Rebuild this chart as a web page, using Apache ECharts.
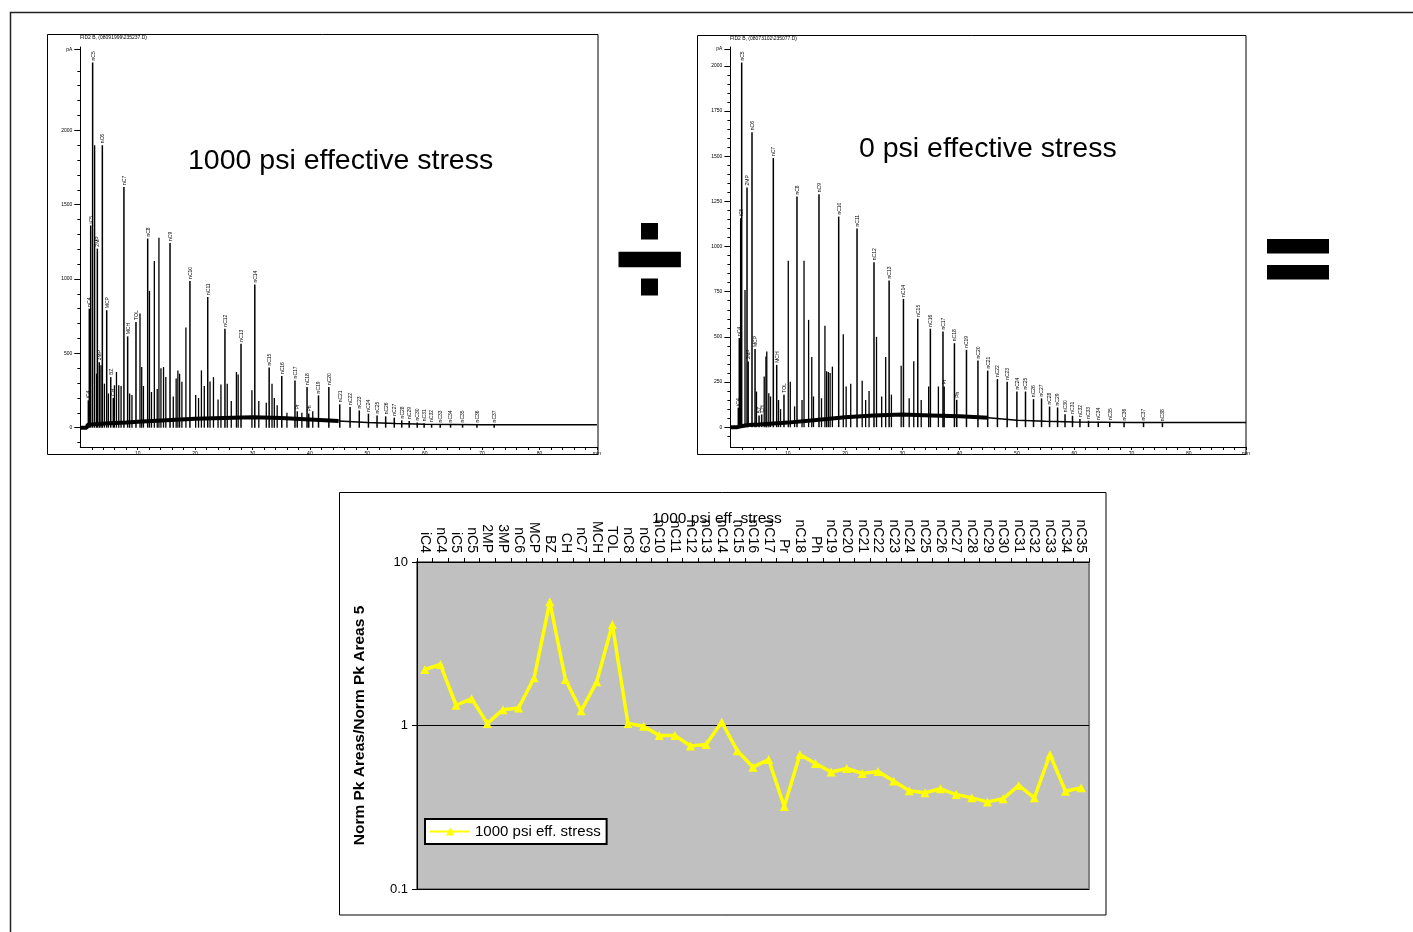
<!DOCTYPE html>
<html>
<head>
<meta charset="utf-8">
<title>Norm Pk Areas ratio</title>
<script src="https://cdn.jsdelivr.net/npm/echarts@6/dist/echarts.min.js"></script>
<style>
  html, body { margin: 0; padding: 0; background: #fff; }
  #chart { width: 1413px; height: 932px; }
</style>
</head>
<body>
<div id="chart"></div>
<script>
// ---- 1000 psi chromatogram (left) ----
const leftPeakNames = ["iC4", "nC4", "iC5", "nC5", "2MP", "3MP", "nC6", "MCP", "BZ", "CH", "nC7", "MCH", "TOL",
  "nC8", "nC9", "nC10", "nC11", "nC12", "nC13", "nC14", "nC15", "nC16", "nC17", "Pr", "nC18", "Ph", "nC19",
  "nC20", "nC21", "nC22", "nC23", "nC24", "nC25", "nC26", "nC27", "nC28", "nC29", "nC30", "nC31", "nC32",
  "nC33", "nC34", "nC35", "nC36", "nC37"];
const leftPeakTimes = [1.40, 1.57, 1.81, 2.15, 2.97, 3.30, 3.84, 4.60, 5.30, 5.75, 7.60, 8.25, 9.70,
  11.74, 15.63, 19.10, 22.20, 25.20, 28.00, 30.40, 32.90, 35.10, 37.40, 37.80, 39.50, 39.80, 41.50,
  43.30, 45.20, 47.00, 48.60, 50.20, 51.70, 53.20, 54.70, 56.00, 57.30, 58.70, 59.90, 61.20,
  62.70, 64.50, 66.60, 69.10, 72.10];
const leftPeakHeights = [184, 800, 1360, 2456, 1204, 440, 1900, 790, 340, 200, 1619, 614, 711,
  1272, 1242, 987, 879, 666, 565, 962, 404, 347, 318, 110, 273, 95, 217,
  273, 157, 139, 116, 94, 81, 76, 67, 49, 45, 35, 30, 25,
  22, 22, 22, 22, 22];
const leftGrassTimes = [2.50, 2.84, 3.60, 4.20, 4.90, 5.95, 6.30, 6.70, 7.10, 8.60, 9.00, 10.40, 10.70, 11.00,
  12.05, 12.40, 12.90, 13.40, 13.70, 14.05, 14.50, 14.90, 16.20, 16.70, 17.00, 17.30, 17.70, 18.40, 20.10,
  20.60, 21.10, 21.60, 22.60, 23.20, 24.00, 24.50, 25.60, 26.30, 27.20, 27.50, 29.90, 31.10, 32.40, 33.40,
  33.80, 34.30, 36.00, 38.60, 40.50];
const leftGrassHeights = [1900, 363, 420, 296, 230, 285, 374, 285, 280, 229, 220, 767, 408, 280,
  920, 240, 1121, 260, 1278, 400, 408, 340, 210, 330, 385, 363, 308, 673, 220,
  200, 385, 280, 310, 340, 190, 290, 295, 180, 374, 358, 252, 180, 168, 295,
  200, 150, 100, 100, 110];
const leftBaseTimes = [0, 1.1, 1.3, 3, 5, 8, 10, 15, 20, 25, 30, 35, 40, 45, 50, 55, 60, 70, 90];
const leftBaseValues = [0, 0, 20, 25, 30, 35, 40, 50, 60, 65, 70, 65, 55, 45, 35, 28, 23, 20, 20];

// ---- 0 psi chromatogram (right) ----
const rightPeakNames = ["iC4", "nC4", "iC5", "nC5", "2MP", "3MP", "nC6", "MCP", "BZ", "CH", "nC7", "MCH", "TOL",
  "nC8", "nC9", "nC10", "nC11", "nC12", "nC13", "nC14", "nC15", "nC16", "nC17", "Pr", "nC18", "Ph", "nC19",
  "nC20", "nC21", "nC22", "nC23", "nC24", "nC25", "nC26", "nC27", "nC28", "nC29", "nC30", "nC31", "nC32",
  "nC33", "nC34", "nC35", "nC36", "nC37", "nC38"];
const rightPeakTimes = [1.38, 1.55, 1.80, 1.97, 2.90, 3.10, 3.77, 4.30, 5.00, 5.46, 7.49, 8.08, 9.35,
  11.62, 15.46, 18.90, 22.10, 25.06, 27.70, 30.20, 32.70, 34.90, 37.10, 37.30, 39.10, 39.50, 41.20,
  43.20, 44.90, 46.60, 48.30, 50.00, 51.50, 52.90, 54.30, 55.70, 57.10, 58.40, 59.70, 61.00,
  62.50, 64.20, 66.20, 68.70, 72.10, 75.40];
const rightPeakHeights = [107, 493, 1157, 2019, 1327, 363, 1633, 432, 65, 70, 1490, 345, 179,
  1277, 1290, 1166, 1100, 913, 812, 710, 600, 545, 529, 225, 465, 151, 428,
  369, 313, 266, 251, 197, 197, 155, 159, 114, 109, 72, 63, 45,
  35, 30, 28, 25, 25, 22];
const rightGrassTimes = [2.55, 4.55, 5.90, 6.20, 6.35, 6.70, 7.00, 8.40, 8.75, 10.10, 10.45, 11.20, 12.50, 12.85,
  13.65, 14.20, 14.50, 15.90, 16.50, 16.80, 17.10, 17.40, 17.80, 19.70, 20.20, 21.00, 23.00, 23.60, 24.20,
  25.50, 26.40, 27.10, 28.10, 29.80, 31.20, 32.00, 33.30, 34.60, 36.30];
const rightGrassHeights = [760, 197, 280, 391, 419, 188, 170, 150, 100, 921, 252, 115, 150, 921,
  594, 388, 170, 160, 561, 310, 305, 300, 335, 515, 225, 240, 257, 150, 200,
  500, 170, 388, 180, 340, 160, 365, 150, 225, 225];
const rightBaseTimes = [0, 1.2, 1.3, 3, 5, 10, 15, 20, 25, 30, 35, 40, 45, 50, 55, 60, 70, 90];
const rightBaseValues = [0, 0, 10, 12, 15, 25, 40, 55, 65, 70, 65, 60, 52, 38, 32, 28, 26, 26];

// the noisy part of each trace ends at 45 min, the rest is a thin line
const noisyUntil = 45;

// axis ticks / labels for the chromatograms
const minuteTicks = [2, 4, 6, 8, 10, 12, 14, 16, 18, 20, 22, 24, 26, 28, 30, 32, 34, 36, 38, 40, 42, 44,
  46, 48, 50, 52, 54, 56, 58, 60, 62, 64, 66, 68, 70, 72, 74, 76, 78, 80, 82, 84, 86, 88];
const minuteLabels = [10, 20, 30, 40, 50, 60, 70, 80, 90];
const leftPaLabels = [0, 500, 1000, 1500, 2000, 2545];
const leftPaMinor = [-100, 100, 200, 300, 400, 600, 700, 800, 900, 1100, 1200, 1300, 1400,
  1600, 1700, 1800, 1900, 2100, 2200, 2300, 2400];
const rightPaLabels = [0, 250, 500, 750, 1000, 1250, 1500, 1750, 2000, 2095];
const rightPaMinor = [-50, 50, 100, 150, 200, 300, 350, 400, 450, 550, 600, 650, 700, 800, 850, 900, 950,
  1050, 1100, 1150, 1200, 1300, 1350, 1400, 1450, 1550, 1600, 1650, 1700, 1800, 1850, 1900, 1950];

// ---- ratio chart ----
const ratioNames = ["iC4", "nC4", "iC5", "nC5", "2MP", "3MP", "nC6", "MCP", "BZ", "CH", "nC7", "MCH", "TOL",
  "nC8", "nC9", "nC10", "nC11", "nC12", "nC13", "nC14", "nC15", "nC16", "nC17", "Pr", "nC18", "Ph",
  "nC19", "nC20", "nC21", "nC22", "nC23", "nC24", "nC25", "nC26", "nC27", "nC28", "nC29", "nC30",
  "nC31", "nC32", "nC33", "nC34", "nC35"];
const ratioValues = [2.20, 2.36, 1.33, 1.46, 1.03, 1.25, 1.28, 1.96, 5.71, 1.91, 1.23, 1.85, 4.15,
  1.03, 0.99, 0.87, 0.87, 0.75, 0.765, 1.05, 0.70, 0.556, 0.62, 0.32, 0.665, 0.586,
  0.519, 0.546, 0.509, 0.523, 0.457, 0.399, 0.388, 0.41, 0.378, 0.361, 0.341, 0.356,
  0.43, 0.361, 0.665, 0.396, 0.416];

const FONT = "Liberation Sans";

function peakSeries(axis, times, heights, names, width) {
  return {
    type: "custom",
    xAxisIndex: axis,
    yAxisIndex: axis,
    silent: true,
    data: times.map((t, i) => [t, heights[i]]),
    renderItem(params, api) {
      const top = api.coord([api.value(0), api.value(1)]);
      const foot = api.coord([api.value(0), 0]);
      const kids = [{
        type: "line",
        shape: { x1: top[0], y1: foot[1], x2: top[0], y2: top[1] },
        style: { stroke: "#000", lineWidth: width }
      }];
      if (names) {
        kids.push({
          type: "text",
          x: top[0] + 0.5,
          y: top[1] - 2,
          rotation: Math.PI / 2,
          style: { text: names[params.dataIndex], fontSize: 5, fontFamily: FONT, fill: "#000",
            align: "left", verticalAlign: "middle" }
        });
      }
      return { type: "group", children: kids };
    }
  };
}

function baseSeries(axis, times, values, keep, width) {
  const pts = times.map((t, i) => [t, values[i]]).filter(p => keep(p[0]));
  return {
    type: "line",
    xAxisIndex: axis,
    yAxisIndex: axis,
    silent: true,
    symbol: "none",
    data: pts,
    lineStyle: { color: "#000", width: width }
  };
}

function minuteAxis(idx) {
  return {
    gridIndex: idx, type: "value", min: 0, max: 90,
    axisLine: { show: true, onZero: false, lineStyle: { color: "#000", width: 1 } },
    axisTick: { show: true, customValues: minuteTicks.concat(minuteLabels), length: 3, lineStyle: { color: "#000" } },
    axisLabel: { customValues: minuteLabels, fontSize: 5, fontFamily: FONT, color: "#000", margin: 4,
      formatter: v => (v === 90 ? "min" : String(v)) },
    splitLine: { show: false }
  };
}

function paAxis(idx, min, max, labels, top) {
  return {
    gridIndex: idx, type: "value", position: "left", min: min, max: max,
    axisLine: { show: true, onZero: false, lineStyle: { color: "#000", width: 1 } },
    axisTick: { show: true, customValues: labels, length: 6, lineStyle: { color: "#000" } },
    axisLabel: { customValues: labels, fontSize: 5, fontFamily: FONT, color: "#000", margin: 8,
      formatter: v => (v === top ? "pA" : String(v)) },
    splitLine: { show: false }
  };
}

function minorPaAxis(idx, min, max, ticks) {
  return {
    gridIndex: idx, type: "value", position: "left", offset: 0, min: min, max: max,
    axisLine: { show: false, onZero: false },
    axisTick: { show: true, customValues: ticks, length: 3, lineStyle: { color: "#000" } },
    axisLabel: { show: false },
    splitLine: { show: false }
  };
}

const chart = echarts.init(document.getElementById("chart"), null, { renderer: "canvas" });

chart.setOption({
  animation: false,
  backgroundColor: "#fff",
  title: [
    { text: "1000 psi effective stress", left: 188, top: 147, padding: 0,
      textStyle: { fontSize: 28.5, fontWeight: "normal", fontFamily: FONT, color: "#000" } },
    { text: "0 psi effective stress", left: 859, top: 135, padding: 0,
      textStyle: { fontSize: 28.5, fontWeight: "normal", fontFamily: FONT, color: "#000" } },
    { text: "FID2 B, (08091999\\235237.D)", left: 80, top: 35, padding: 0,
      textStyle: { fontSize: 5, fontWeight: "normal", fontFamily: FONT, color: "#000" } },
    { text: "FID2 B, (08073102\\235077.D)", left: 730, top: 36, padding: 0,
      textStyle: { fontSize: 5, fontWeight: "normal", fontFamily: FONT, color: "#000" } },
    { text: "1000 psi eff. stress", left: 652, top: 511, padding: 0,
      textStyle: { fontSize: 15.5, fontWeight: "normal", fontFamily: FONT, color: "#000" } }
  ],
  legend: {
    data: ["1000 psi eff. stress"],
    left: 425, top: 819,
    backgroundColor: "#fff",
    borderColor: "#000", borderWidth: 2, borderRadius: 0,
    padding: [5, 6, 5, 4],
    itemWidth: 40, itemHeight: 10, itemGap: 4,
    textStyle: { fontSize: 15, fontFamily: FONT, color: "#000" }
  },
  grid: [
    { left: 80.3, top: 47, width: 516.6, height: 400, show: false, containLabel: false, outerBoundsMode: "none" },
    { left: 730.4, top: 47, width: 515.7, height: 400, show: false, containLabel: false, outerBoundsMode: "none" },
    { left: 417, top: 562, width: 672, height: 327, show: true, backgroundColor: "#C0C0C0",
      borderColor: "#808080", borderWidth: 2, containLabel: false, outerBoundsMode: "none" }
  ],
  xAxis: [
    minuteAxis(0),
    minuteAxis(1),
    {
      gridIndex: 2, type: "category", position: "top", data: ratioNames, boundaryGap: true,
      axisLine: { show: true, lineStyle: { color: "#000", width: 1 } },
      axisTick: { show: true, length: 4, interval: 0, lineStyle: { color: "#000" } },
      axisLabel: { interval: 0, rotate: 90, fontSize: 14, fontFamily: FONT, color: "#000", margin: 9 },
      splitLine: { show: false }
    }
  ],
  yAxis: [
    paAxis(0, -130, 2560, leftPaLabels, 2545),
    paAxis(1, -110, 2105, rightPaLabels, 2095),
    {
      gridIndex: 2, type: "log", logBase: 10, min: 0.1, max: 10,
      name: "Norm Pk Areas/Norm Pk Areas 5", nameLocation: "middle", nameRotate: 90, nameGap: 49,
      nameTextStyle: { fontSize: 15.5, fontWeight: "bold", fontFamily: FONT, color: "#000" },
      axisLine: { show: true, lineStyle: { color: "#000", width: 1 } },
      axisTick: { show: true, length: 5, lineStyle: { color: "#000" } },
      axisLabel: { fontSize: 13, fontFamily: FONT, color: "#000", margin: 9 },
      splitLine: { show: true, lineStyle: { color: "#000", width: 1 } },
      minorTick: { show: false }
    },
    minorPaAxis(0, -130, 2560, leftPaMinor),
    minorPaAxis(1, -110, 2105, rightPaMinor)
  ],
  series: [
    baseSeries(0, leftBaseTimes, leftBaseValues, t => t <= noisyUntil, 4),
    baseSeries(0, leftBaseTimes, leftBaseValues, t => t >= noisyUntil, 1.5),
    peakSeries(0, leftGrassTimes, leftGrassHeights, null, 1.3),
    peakSeries(0, leftPeakTimes, leftPeakHeights, leftPeakNames, 1.5),
    baseSeries(1, rightBaseTimes, rightBaseValues, t => t <= noisyUntil, 4),
    baseSeries(1, rightBaseTimes, rightBaseValues, t => t >= noisyUntil, 1.5),
    peakSeries(1, rightGrassTimes, rightGrassHeights, null, 1.3),
    peakSeries(1, rightPeakTimes, rightPeakHeights, rightPeakNames, 1.5),
    {
      name: "1000 psi eff. stress",
      type: "line",
      xAxisIndex: 2, yAxisIndex: 2,
      data: ratioValues,
      symbol: "triangle", symbolSize: 9,
      lineStyle: { color: "#FFFF00", width: 3.5 },
      itemStyle: { color: "#FFFF00" }
    }
  ],
  graphic: [
    // outer frame
    { type: "polyline", shape: { points: [[10.5, 932], [10.5, 12.5], [1413, 12.5]] },
      style: { stroke: "#222", lineWidth: 1.5, fill: null }, silent: true },
    // chromatogram frames
    { type: "rect", shape: { x: 47.5, y: 34.5, width: 550.5, height: 420 },
      style: { stroke: "#000", lineWidth: 1, fill: null }, silent: true },
    { type: "rect", shape: { x: 697.5, y: 35.5, width: 548.5, height: 419 },
      style: { stroke: "#000", lineWidth: 1, fill: null }, silent: true },
    // ratio chart frame
    { type: "rect", shape: { x: 339.5, y: 492.5, width: 766.5, height: 422.5 },
      style: { stroke: "#000", lineWidth: 1, fill: null }, silent: true },
    // divide sign
    { type: "rect", shape: { x: 641, y: 223, width: 17, height: 16.5 }, style: { fill: "#000" }, silent: true },
    { type: "rect", shape: { x: 618.5, y: 251.7, width: 62.4, height: 15.6 }, style: { fill: "#000" }, silent: true },
    { type: "rect", shape: { x: 641, y: 278.5, width: 17, height: 17 }, style: { fill: "#000" }, silent: true },
    // equals sign
    { type: "rect", shape: { x: 1267, y: 239, width: 62, height: 14.5 }, style: { fill: "#000" }, silent: true },
    { type: "rect", shape: { x: 1267, y: 265, width: 62, height: 14.5 }, style: { fill: "#000" }, silent: true }
  ]
});
</script>
</body>
</html>
